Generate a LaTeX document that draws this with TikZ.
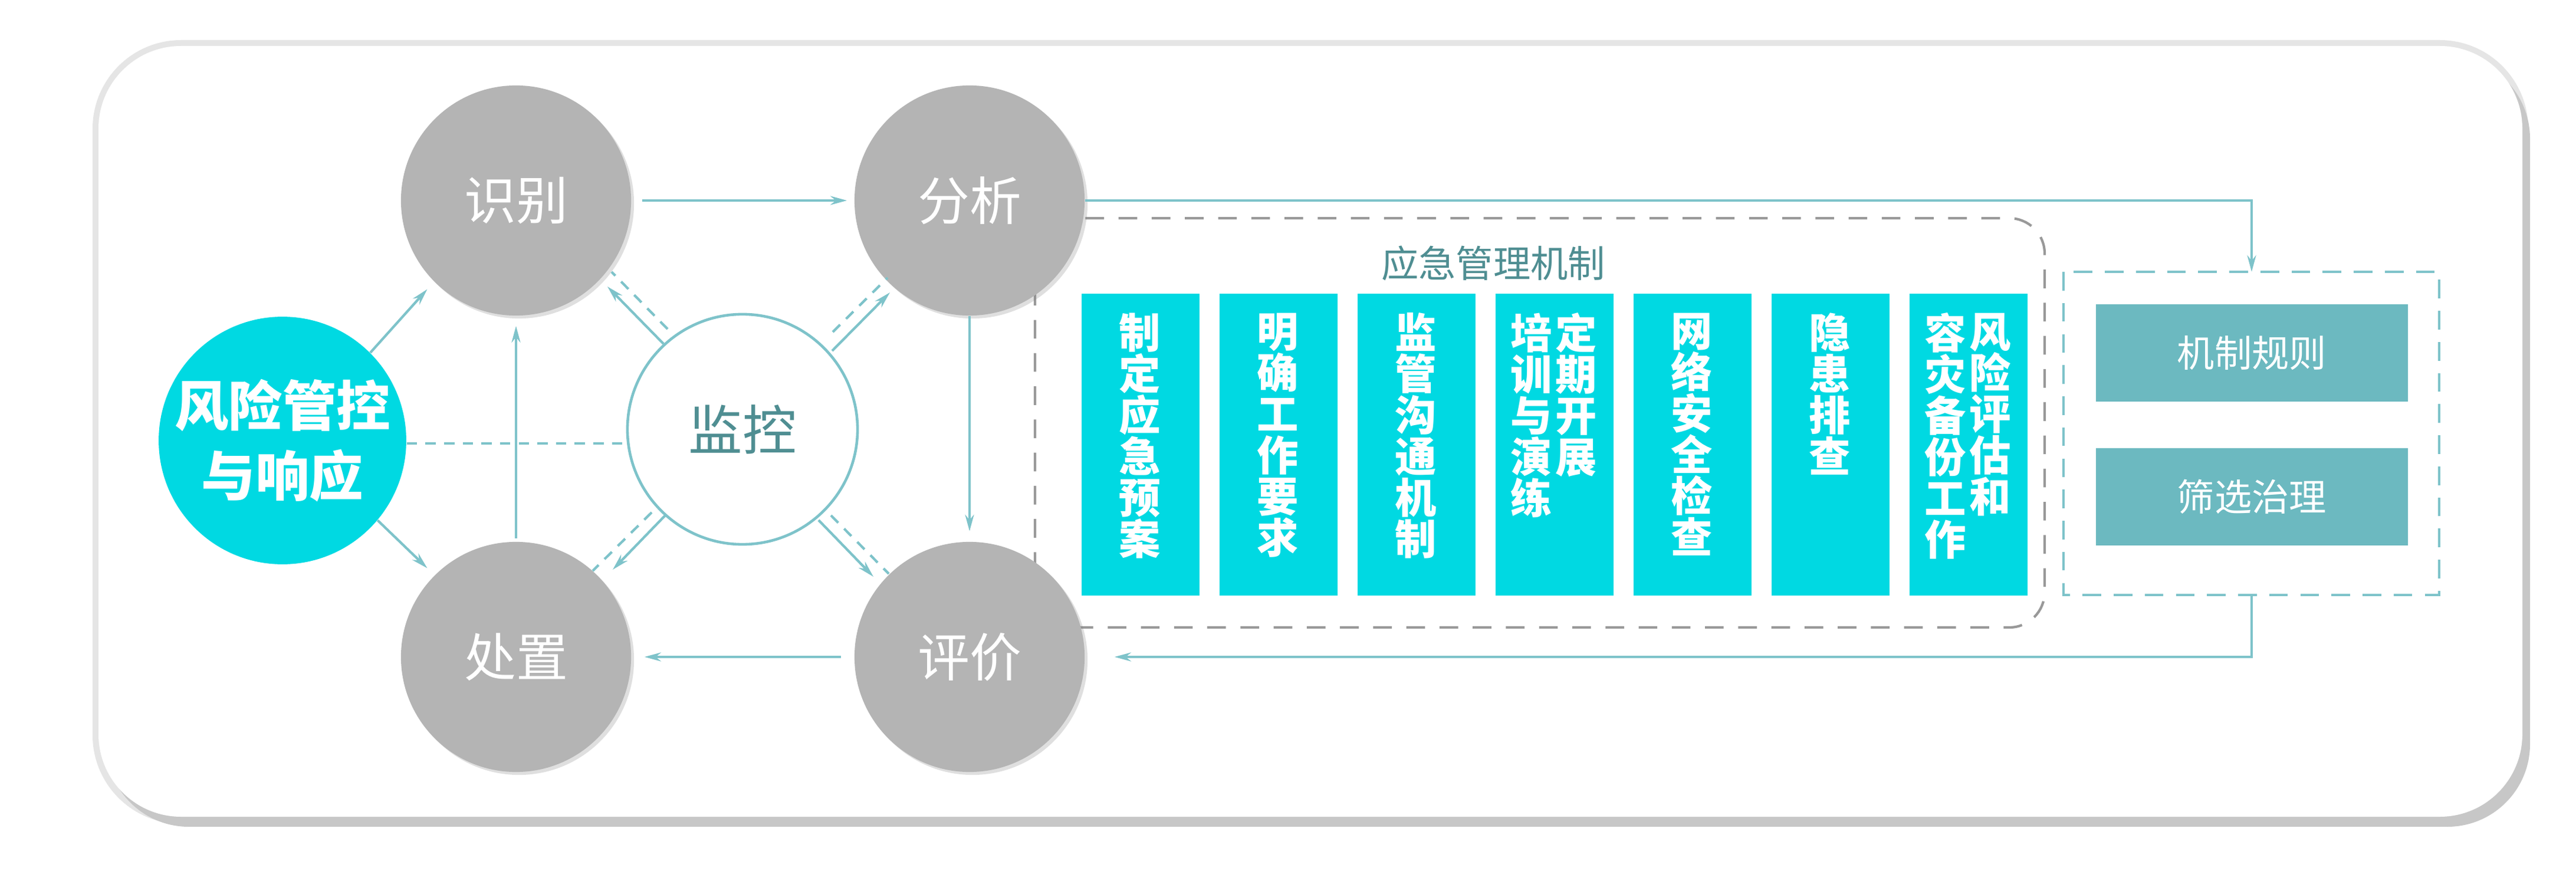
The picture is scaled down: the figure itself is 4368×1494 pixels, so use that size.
\documentclass[tikz,border=0pt]{standalone}
\usepackage{fontspec}
\newfontfamily\cjk{Noto Sans CJK SC}
\usetikzlibrary{arrows.meta,shadows,calc}
\definecolor{tealL}{HTML}{7EC3CA}
\definecolor{cyanB}{HTML}{00D9E2}
\definecolor{greyC}{HTML}{B4B4B4}
\definecolor{tealT}{HTML}{4F8E92}
\definecolor{tealBox}{HTML}{6CB9C0}
\begin{document}
\begin{tikzpicture}[x=0.01cm,y=-0.01cm,
  conn/.style={draw=tealL,line width=1.2pt},
  arr/.style={conn,-{Stealth[length=0.28cm,width=0.15cm]}},
  dconn/.style={draw=tealL,line width=1.2pt,dash pattern=on 5pt off 4pt},
  gcirc/.style={circle,fill=greyC,minimum size=3.9cm,inner sep=0pt,text=white,font=\cjk\fontsize{25}{25}\selectfont,
    drop shadow={opacity=0.25,shadow xshift=0.05cm,shadow yshift=-0.05cm}},
  vbox/.style={fill=cyanB,minimum width=2cm,minimum height=5.12cm,inner sep=0pt},
  vtext/.style={text=white,font=\cjk\bfseries\fontsize{20}{19.9}\selectfont,align=center,anchor=north,inner sep=0pt},
  tbox/.style={fill=tealBox,minimum width=5.29cm,minimum height=1.65cm,inner sep=0pt,text=white,font=\cjk\fontsize{18}{18}\selectfont}]
\useasboundingbox (0,0) rectangle (4368,1494);
\fill[white] (0,0) rectangle (4368,1494);
% card
\fill[black!10,rounded corners=1.5cm] (157,68) rectangle (4287,1397);
\fill[black!22,rounded corners=1.4cm] (180,95) rectangle (4290,1402);
\fill[white,rounded corners=1.4cm] (167,78) rectangle (4277,1385);
% dashed grey box
\draw[draw=black!40,line width=1.2pt,dash pattern=on 9pt off 7pt,rounded corners=0.6cm] (1755,370) rectangle (3467,1064);
\node[text=tealT,font=\cjk\fontsize{18}{18}\selectfont] (title) at (2532,446) {应急管理机制};
% cyan boxes
\foreach \i/\t in {0/制\\定\\应\\急\\预\\案,1/明\\确\\工\\作\\要\\求,2/监\\管\\沟\\通\\机\\制,4/网\\络\\安\\全\\检\\查,5/隐\\患\\排\\查}{
  \node[vbox,anchor=north west] (b\i) at ({1833+\i*234},497) {};
  \node[vtext] (bt\i) at ({1933+\i*234},530) {\t};
}
\node[vbox,anchor=north west] (b3) at ({1833+3*234},497) {};
\node[vtext] (bt3a) at ({1933+3*234+38},530) {定\\期\\开\\展};
\node[vtext] (bt3b) at ({1933+3*234-38},530) {培\\训\\与\\演\\练};
\node[vbox,anchor=north west] (b6) at ({1833+6*234},497) {};
\node[vtext] (bt6a) at ({1933+6*234+38},530) {风\\险\\评\\估\\和};
\node[vtext] (bt6b) at ({1933+6*234-38},530) {容\\灾\\备\\份\\工\\作};
% right box
\draw[draw=tealL,line width=1.2pt,dash pattern=on 9pt off 6pt] (3499,461) rectangle (4136,1009);
\node[tbox,anchor=north west] (r1) at (3553,515) {机制规则};
\node[tbox,anchor=north west] (r2) at (3553,759) {筛选治理};
\coordinate (rtop) at (3818,461);
\coordinate (rbot) at (3818,1009);
% circles
\node[gcirc] (shi) at (875,340) {识别};
\node[gcirc] (fen) at (1644,340) {分析};
\node[gcirc] (chu) at (875,1114) {处置};
\node[gcirc] (pin) at (1644,1114) {评价};
\node[circle,fill=cyanB,minimum size=3.9cm,inner sep=0pt,text=white,align=center,
  font=\cjk\bfseries\fontsize{26}{34}\selectfont] (risk) at (479,747) {风险管控\\与响应};
\node[circle,draw=tealL,line width=1.3pt,fill=white,minimum size=3.9cm,inner sep=0pt,text=tealT,
  font=\cjk\fontsize{26}{26}\selectfont] (jk) at (1259,728) {监控};
% cycle connectors
\draw[arr] ($(shi.east)+(18,0)$) -- ($(fen.west)+(-12,0)$);
\draw[arr] (fen.south) -- ($(fen.south)+(0,365)$);
\draw[arr] ($(pin.west)+(-22,0)$) -- ($(chu.east)+(22,0)$);
\draw[arr] ($(chu.north)+(0,-5)$) -- ($(shi.south)+(0,17)$);
\draw[arr] (risk.45) -- ($(shi.225)+(-12,12)$);
\draw[arr] (risk.-40) -- ($(chu.135)+(-12,-12)$);
\draw[dconn] ($(risk.east)+(0,5)$) -- ($(jk.west |- risk.east)+(4,5)$);
% monitor diagonals
\draw[arr] (1125,583) -- (1030,486);
\draw[dconn] (1132,558) -- (1037,461);
\draw[arr] (1411,595) -- (1509,496);
\draw[dconn] (1412,563) -- (1505,471);
\draw[arr] (1128,874) -- (1039,966);
\draw[dconn] (1105,869) -- (1005,968);
\draw[arr] (1388,882) -- (1481,978);
\draw[dconn] (1409,874) -- (1507,973);
% outer loop
\draw[arr] (fen.east) -- (3818,340) -- (rtop);
\draw[arr] (rbot) -- (3818,1114) -- ($(pin.east)+(50,0)$);
\end{tikzpicture}
\end{document}
